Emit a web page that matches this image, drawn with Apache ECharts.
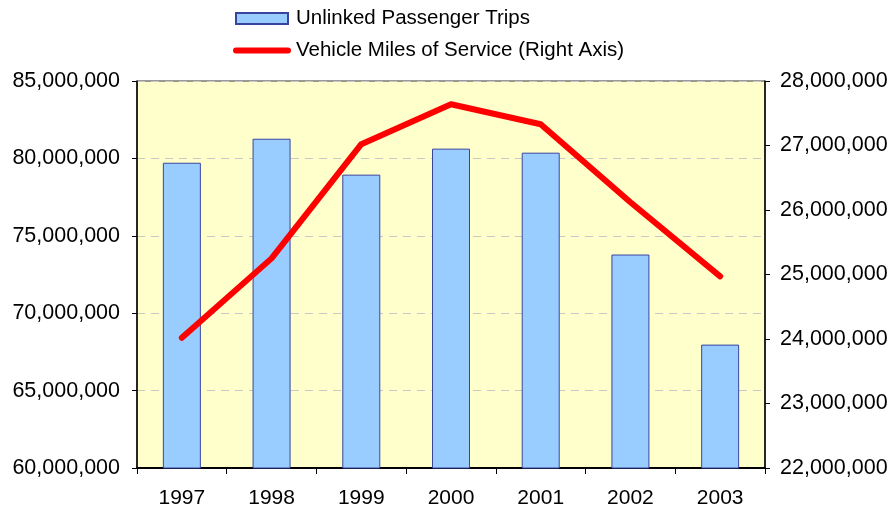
<!DOCTYPE html>
<html>
<head>
<meta charset="utf-8">
<script src="https://cdn.jsdelivr.net/npm/echarts@6/dist/echarts.min.js"></script>
<style>
    html, body { margin: 0; padding: 0; background: #fff; }
    #chart { width: 894px; height: 510px; }
</style>
</head>
<body>
<div id="chart"></div>
<script>
// 数据
var years = ['1997', '1998', '1999', '2000', '2001', '2002', '2003'];
var unlinkedTrips = [79720000, 81270000, 78950000, 80630000, 80370000, 73790000, 67970000];
var vehicleMiles = [24020000, 25250000, 27020000, 27640000, 27330000, 26120000, 24970000];

function fmtNum(v) {
    return String(v).replace(/\B(?=(\d{3})+(?!\d))/g, ',');
}

var chart = echarts.init(document.getElementById('chart'));
var option = {
    animation: false,
    textStyle: { fontFamily: 'Liberation Sans', color: '#000' },
    legend: {
        orient: 'vertical',
        left: 228,
        top: 3,
        itemWidth: 58,
        itemHeight: 11,
        itemGap: 11,
        textStyle: { fontSize: 20.5, color: '#000' },
        data: [
            { name: 'Unlinked Passenger Trips', icon: 'path://M0,0 H52 V11 H0 Z' },
            { name: 'Vehicle Miles of Service (Right Axis)', icon: 'path://M3,0 H55 A3,3 0 0 1 55,6 H3 A3,3 0 0 1 3,0 Z' }
        ]
    },
    grid: {
        left: 137, right: 129, top: 81, bottom: 42,
        show: true,
        backgroundColor: '#FFFFCC',
        borderColor: '#333',
        borderWidth: 1
    },
    xAxis: {
        type: 'category',
        data: years,
        axisLine: { lineStyle: { color: '#000', width: 2 } },
        axisTick: { show: true, length: 6, lineStyle: { color: '#000' } },
        axisLabel: { fontSize: 21, color: '#000', margin: 20 }
    },
    yAxis: [
        {
            type: 'value',
            min: 60000000, max: 85000000, interval: 5000000,
            axisLine: { show: true, lineStyle: { color: '#000', width: 1.5 } },
            axisTick: { show: true, length: 5, lineStyle: { color: '#000' } },
            axisLabel: { fontSize: 21.5, color: '#000', margin: 17, formatter: fmtNum },
            splitLine: { lineStyle: { color: '#C8C8C8', type: [8, 6], width: 1 } }
        },
        {
            type: 'value',
            min: 22000000, max: 28000000, interval: 1000000,
            axisLine: { show: true, lineStyle: { color: '#000', width: 1.5 } },
            axisTick: { show: true, length: 5, lineStyle: { color: '#000' } },
            axisLabel: { fontSize: 21.5, color: '#000', margin: 15, formatter: fmtNum },
            splitLine: { show: false }
        }
    ],
    series: [
        {
            name: 'Unlinked Passenger Trips',
            type: 'bar',
            data: unlinkedTrips,
            barWidth: 38,
            itemStyle: { color: '#99CCFF', borderColor: '#3A44A0', borderWidth: 1 }
        },
        {
            name: 'Vehicle Miles of Service (Right Axis)',
            type: 'line',
            yAxisIndex: 1,
            data: vehicleMiles,
            symbol: 'none',
            itemStyle: { color: '#FF0000' },
            lineStyle: { color: '#FF0000', width: 6, cap: 'round', join: 'round' }
        }
    ]
};
chart.setOption(option);
</script>
</body>
</html>
